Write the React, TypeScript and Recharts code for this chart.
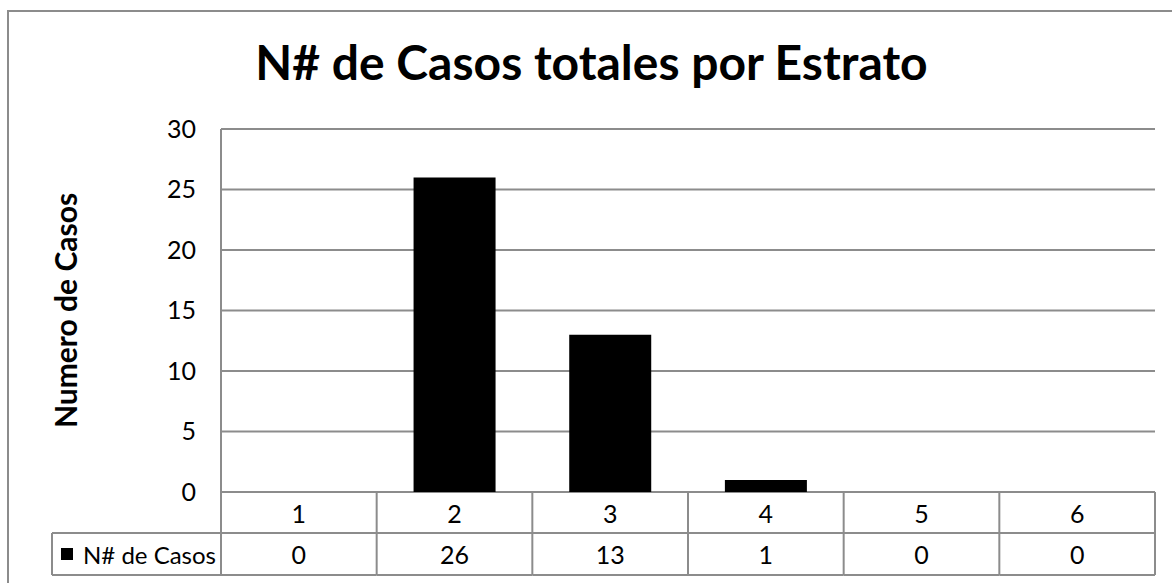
import React from 'react';
import { BarChart, Bar, XAxis, YAxis, CartesianGrid } from 'recharts';

const categories = ['1', '2', '3', '4', '5', '6'];
const casos = [0, 26, 13, 1, 0, 0];
const yTicks = [0, 5, 10, 15, 20, 25, 30];
const seriesName = 'N# de Casos';
const chartTitle = 'N# de Casos totales por Estrato';
const yLabel = 'Numero de Casos';

const data = categories.map((c, i) => ({ estrato: c, casos: casos[i] }));

const W = 1172;
const H = 583;
const M = { top: 129, right: 17, left: 161, bottom: 8 };
const YW = 60;
const XH = 83;
const plotW = W - M.left - M.right - YW;
const band = plotW / categories.length;
const ROW = 41;
const LEGEND_W = 169;
const GRID = '#8c8c8c';
const FONT = 'Lato, "Open Sans", sans-serif';
const TXT = 24;

function TableTick(props: any) {
  const { x, y, payload, index } = props;
  const left = x - band / 2;
  const right = x + band / 2;
  const line = { stroke: GRID, strokeWidth: 2 };
  const idx = payload && typeof payload.index === 'number' ? payload.index : index;
  return (
    <g>
      {idx === 0 && <line x1={left} y1={y} x2={left} y2={y + XH} {...line} />}
      <line x1={right} y1={y} x2={right} y2={y + XH} {...line} />
      <line x1={left} y1={y + ROW} x2={right} y2={y + ROW} {...line} />
      <line x1={left} y1={y + XH} x2={right} y2={y + XH} {...line} />
      <text x={x} y={y + ROW / 2} textAnchor="middle" dominantBaseline="central" fontSize={TXT + 1} fontFamily={FONT} fill="#000">
        {payload.value}
      </text>
      <text x={x} y={y + ROW + (XH - ROW) / 2} textAnchor="middle" dominantBaseline="central" fontSize={TXT + 1} fontFamily={FONT} fill="#000">
        {casos[idx]}
      </text>
      {idx === 0 && (
        <g>
          <line x1={left - LEGEND_W} y1={y + ROW} x2={left} y2={y + ROW} {...line} />
          <line x1={left - LEGEND_W} y1={y + XH} x2={left} y2={y + XH} {...line} />
          <line x1={left - LEGEND_W} y1={y + ROW} x2={left - LEGEND_W} y2={y + XH} {...line} />
          <rect x={left - LEGEND_W + 9} y={y + ROW + (XH - ROW) / 2 - 6} width={12} height={12} fill="#000" />
          <text x={left - LEGEND_W + 31} y={y + ROW + (XH - ROW) / 2} dominantBaseline="central" fontSize={TXT} fontFamily={FONT} fill="#000">
            {seriesName}
          </text>
        </g>
      )}
    </g>
  );
}

export default function App() {
  return (
    <div style={{ position: 'absolute', left: 0, top: 0, width: W, height: H, background: '#fff', overflow: 'hidden' }}>
      <div
        style={{
          position: 'absolute',
          left: 7,
          top: 10,
          width: 1200,
          height: 700,
          borderLeft: '2px solid #8c8c8c',
          borderTop: '2px solid #8c8c8c',
          boxSizing: 'border-box',
        }}
      />
      <div
        style={{
          position: 'absolute',
          left: 7,
          top: 38,
          width: 1169,
          textAlign: 'center',
          fontFamily: FONT,
          fontWeight: 'bold',
          fontSize: 48,
          lineHeight: '48px',
          color: '#000',
        }}
      >
        {chartTitle}
      </div>
      <div style={{ position: 'absolute', left: 0, top: 0 }}>
        <BarChart width={W} height={H} data={data} margin={M} barCategoryGap="23.7%">
          <CartesianGrid vertical={false} stroke={GRID} strokeWidth={2} />
          <XAxis
            dataKey="estrato"
            height={XH}
            axisLine={false}
            tickLine={false}
            tickSize={0}
            tickMargin={0}
            interval={0}
            tick={<TableTick />}
          />
          <YAxis
            width={YW}
            domain={[0, 30]}
            ticks={yTicks}
            interval={0}
            axisLine={{ stroke: GRID, strokeWidth: 2 }}
            tickLine={false}
            tickSize={0}
            tickMargin={25}
            tick={{ fill: '#000', fontSize: 25, fontFamily: FONT }}
            label={{
              value: yLabel,
              angle: -90,
              position: 'left',
              offset: 95,
              style: { textAnchor: 'middle', fontWeight: 'bold', fontSize: 30, fontFamily: FONT, fill: '#000' },
            }}
          />
          <Bar dataKey="casos" name={seriesName} fill="#000" isAnimationActive={false} />
        </BarChart>
      </div>
    </div>
  );
}
